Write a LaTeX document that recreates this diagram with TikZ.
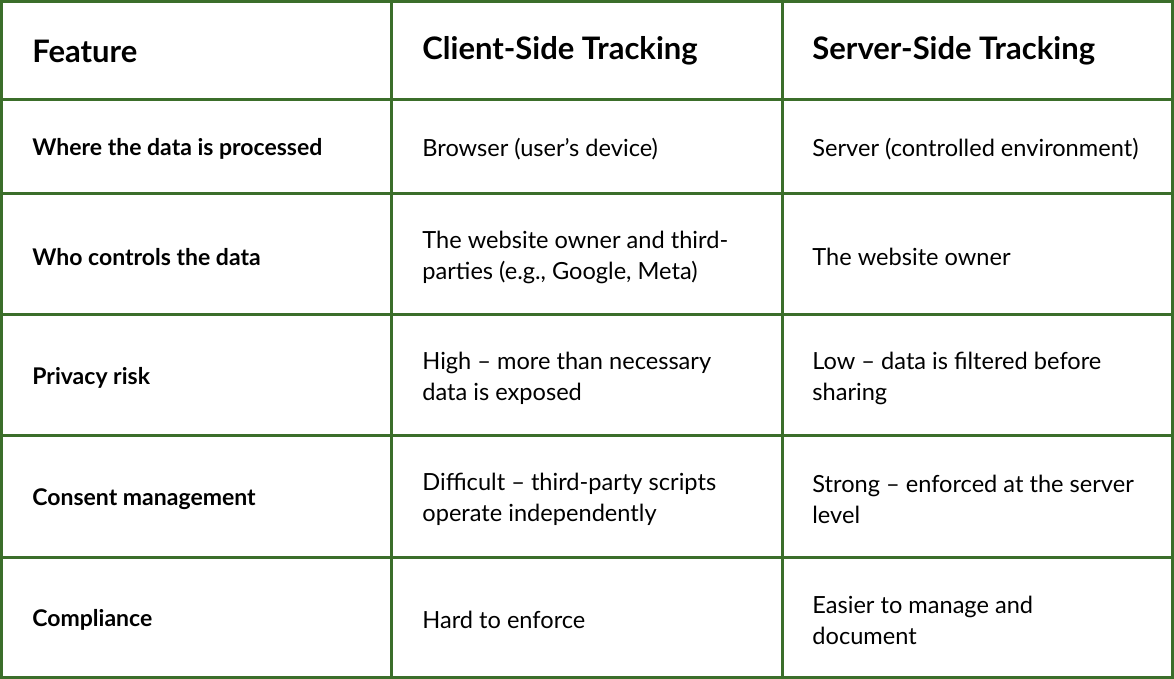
\documentclass[tikz,border=0pt]{standalone}
\usepackage{fontspec}
\setmainfont{Lato}
\usetikzlibrary{positioning}
\definecolor{gridgreen}{HTML}{3B6E2A}
\tikzset{
  cell/.style={anchor=west, align=left, inner sep=0pt, font=\fontsize{11.8}{15.5}\selectfont},
  head/.style={cell, font=\fontsize{15.5}{18}\selectfont\bfseries},
  rowlabel/.style={cell, font=\fontsize{11.5}{15.5}\selectfont\bfseries}
}
\begin{document}
\begin{tikzpicture}[x=0.5pt,y=-0.5pt]
\useasboundingbox (0,0) rectangle (1174,679);
\fill[white] (0,0) rectangle (1174,679);
% grid
\draw[gridgreen, line width=1.5pt] (1.5,1.5) rectangle (1172.5,677.5);
\foreach \xx in {391,782} \draw[gridgreen, line width=1.5pt] (\xx,0) -- (\xx,679);
\foreach \yy in {100,194,315,436,557} \draw[gridgreen, line width=1.5pt] (0,\yy) -- (1174,\yy);
% header
\node[head] (h1) at (32,51) {Feature};
\node[head] (h2) at (422,51) {Client-Side Tracking};
\node[head] (h3) at (812,51) {Server-Side Tracking};
% rows
\node[rowlabel] (r1) at (32,149) {Where the data is processed};
\node[cell] (c1) at (422,149) {Browser (user’s device)};
\node[cell] (s1) at (812,149) {Server (controlled environment)};
\node[rowlabel] (r2) at (32,257) {Who controls the data};
\node[cell] (c2) at (422,257) {The website owner and third-\\parties (e.g., Google, Meta)};
\node[cell] (s2) at (812,257) {The website owner};
\node[rowlabel] (r3) at (32,378) {Privacy risk};
\node[cell] (c3) at (422,378) {High – more than necessary\\data is exposed};
\node[cell] (s3) at (812,378) {Low – data is filtered before\\sharing};
\node[rowlabel] (r4) at (32,499) {Consent management};
\node[cell] (c4) at (422,499) {Difficult – third-party scripts\\operate independently};
\node[cell] (s4) at (812,499) {Strong – enforced at the server\\level};
\node[rowlabel] (r5) at (32,620) {Compliance};
\node[cell] (c5) at (422,620) {Hard to enforce};
\node[cell] (s5) at (812,620) {Easier to manage and\\document};
\end{tikzpicture}
\end{document}
